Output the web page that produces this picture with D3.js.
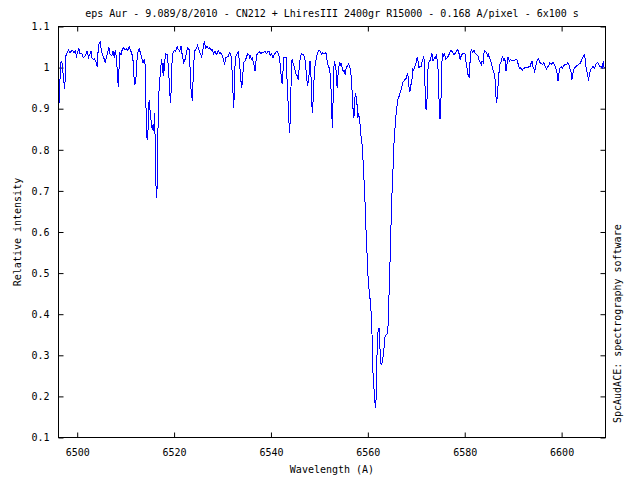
<!DOCTYPE html>
<html><head><meta charset="utf-8">
<script src="https://cdn.jsdelivr.net/npm/d3@7"></script>
<style>html,body{margin:0;padding:0;background:#fff;}svg{display:block;}</style>
</head><body>
<svg id="c" width="640" height="480"></svg>
<script>
const title = "eps Aur - 9.089/8/2010 - CN212 + LhiresIII 2400gr R15000 - 0.168 A/pixel - 6x100 s";
const xLabel = "Wavelength (A)";
const yLabel = "Relative intensity";
const sideNote = "SpcAudACE: spectrography software";
const xDomain = [6496.14, 6609.06];
const yDomain = [0.1, 1.1];
const xTicks = [6500, 6520, 6540, 6560, 6580, 6600];
const yTicks = [0.1, 0.2, 0.3, 0.4, 0.5, 0.6, 0.7, 0.8, 0.9, 1.0, 1.1];
const yTickLabels = ["0.1", "0.2", "0.3", "0.4", "0.5", "0.6", "0.7", "0.8", "0.9", "1", "1.1"];

// [wavelength (A), relative intensity]
const spectrum = [
[6496.28,0.914],[6496.42,0.959],[6496.56,1.012],[6496.83,1.016],[6496.97,0.999],[6497.24,0.967],[6497.38,0.947],[6497.52,0.971],
[6497.65,1.028],[6497.93,1.036],[6498.20,1.042],[6498.48,1.036],[6498.75,1.040],[6499.03,1.042],[6499.30,1.036],[6499.58,1.040],
[6499.85,1.028],[6500.13,1.038],[6500.33,1.048],[6500.54,1.034],[6500.95,1.034],[6501.23,1.024],[6501.64,1.029],[6502.05,1.040],
[6502.33,1.024],[6502.60,1.032],[6502.88,1.040],[6503.02,1.024],[6503.29,1.020],[6503.57,1.021],[6503.84,1.016],[6504.12,1.002],
[6504.25,1.032],[6504.53,1.060],[6504.80,1.062],[6504.94,1.044],[6505.22,1.032],[6505.49,1.024],[6505.77,1.012],[6506.04,1.026],
[6506.31,1.036],[6506.52,1.051],[6506.73,1.034],[6507.14,1.029],[6507.41,1.040],[6507.69,1.024],[6507.83,1.042],[6507.96,1.038],
[6508.24,0.999],[6508.38,0.967],[6508.51,0.953],[6508.65,1.003],[6508.79,1.036],[6509.06,1.032],[6509.34,1.046],[6509.61,1.048],
[6509.89,1.044],[6510.16,1.046],[6510.44,1.042],[6510.71,1.051],[6510.99,1.042],[6511.26,1.036],[6511.54,1.016],[6511.68,0.987],
[6511.81,0.959],[6512.09,0.963],[6512.23,1.003],[6512.50,1.036],[6512.78,1.046],[6513.05,1.036],[6513.33,1.024],[6513.60,1.012],
[6513.81,1.020],[6514.01,1.008],[6514.15,0.930],[6514.29,0.862],[6514.43,0.825],[6514.70,0.857],[6514.84,0.922],[6515.11,0.886],
[6515.39,0.857],[6515.52,0.849],[6515.66,0.862],[6515.80,0.845],[6515.94,0.890],[6516.07,0.837],[6516.21,0.736],[6516.35,0.683],
[6516.49,0.707],[6516.62,0.793],[6516.76,0.926],[6517.04,0.963],[6517.17,0.995],[6517.45,1.021],[6517.59,0.987],[6517.72,1.012],
[6517.86,0.979],[6518.00,1.008],[6518.27,1.034],[6518.55,1.032],[6518.82,1.003],[6519.10,0.943],[6519.24,0.913],[6519.37,0.939],
[6519.51,1.003],[6519.79,1.036],[6520.06,1.042],[6520.34,1.040],[6520.61,1.051],[6520.89,1.044],[6521.16,1.040],[6521.44,1.052],
[6521.71,1.028],[6521.99,1.013],[6522.26,1.020],[6522.54,1.036],[6522.81,1.048],[6523.09,1.044],[6523.36,0.987],[6523.50,0.947],
[6523.77,0.920],
[6524.05,1.012],[6524.32,1.042],[6524.60,1.046],[6524.87,1.054],[6525.15,1.042],[6525.42,1.034],[6525.70,1.026],[6525.97,1.044],
[6526.25,1.064],[6526.52,1.048],[6526.80,1.051],[6527.07,1.046],[6527.35,1.048],[6527.62,1.042],[6527.90,1.044],[6528.17,1.034],
[6528.45,1.040],[6528.72,1.032],[6529.00,1.036],[6529.13,1.042],[6529.41,1.034],[6529.68,1.036],[6529.96,1.029],[6530.23,1.020],
[6530.37,1.008],[6530.51,1.012],[6530.65,1.024],[6530.92,1.026],[6531.19,1.028],[6531.47,1.036],[6531.74,1.029],[6531.88,1.024],
[6532.02,0.971],[6532.16,0.939],[6532.29,0.902],[6532.43,0.935],[6532.57,1.003],[6532.71,1.026],[6532.98,1.032],[6533.26,1.040],
[6533.53,1.008],[6533.81,0.967],[6533.94,0.951],[6534.08,0.963],[6534.22,0.987],[6534.36,1.012],[6534.63,1.016],[6534.91,1.024],
[6535.18,1.034],[6535.46,1.032],[6535.59,1.021],[6535.73,1.028],[6536.01,1.020],[6536.14,1.026],[6536.28,1.016],[6536.56,1.003],
[6536.69,0.991],[6536.83,1.008],[6537.11,1.032],[6537.38,1.036],[6537.66,1.038],[6537.93,1.034],[6538.21,1.038],[6538.48,1.036],
[6538.76,1.040],[6539.03,1.034],[6539.31,1.038],[6539.58,1.040],[6539.86,1.029],[6540.13,1.034],[6540.41,1.024],[6540.68,1.032],
[6540.96,1.036],[6541.23,1.040],[6541.50,1.034],[6541.78,1.024],[6542.05,0.987],[6542.19,0.967],[6542.33,0.959],[6542.47,0.987],
[6542.60,1.024],[6542.88,1.026],[6543.15,1.024],[6543.29,0.979],[6543.43,0.943],[6543.57,0.906],[6543.70,0.870],[6543.84,0.841],
[6543.98,0.874],[6544.12,0.943],[6544.25,1.016],[6544.39,1.018],[6544.67,1.008],[6544.94,0.995],[6545.22,0.983],[6545.49,0.979],
[6545.63,0.969],[6545.77,0.991],[6546.04,1.024],[6546.32,1.034],[6546.59,1.032],[6546.87,1.028],[6547.14,1.012],[6547.28,0.987],
[6547.42,0.971],[6547.55,0.955],[6547.83,0.975],[6547.97,1.012],[6548.10,1.016],[6548.24,0.987],[6548.38,0.930],[6548.52,0.890],
[6548.65,0.906],[6548.79,0.951],[6548.93,0.979],[6549.07,1.003],[6549.34,1.020],[6549.62,1.036],[6549.89,1.042],[6550.17,1.040],
[6550.44,1.032],[6550.72,1.036],[6550.99,1.034],[6551.20,1.036],
[6551.47,1.034],[6551.61,1.012],[6551.89,1.003],[6552.16,0.995],[6552.30,0.951],[6552.44,0.947],[6552.57,0.882],[6552.71,0.853],
[6552.85,0.939],[6552.99,1.003],[6553.12,1.012],[6553.40,1.003],[6553.54,0.963],[6553.67,0.951],[6553.81,0.979],[6553.95,0.997],
[6554.09,1.008],[6554.22,1.012],[6554.36,1.003],[6554.50,1.012],[6554.64,1.003],[6554.77,0.994],[6555.05,0.991],[6555.19,0.995],
[6555.32,0.981],[6555.46,0.995],[6555.60,1.002],[6555.87,1.005],[6556.01,1.008],[6556.29,1.002],[6556.42,0.991],[6556.56,0.979],
[6556.70,0.951],[6556.84,0.922],[6556.97,0.894],[6557.11,0.878],[6557.25,0.898],[6557.39,0.939],[6557.52,0.935],[6557.66,0.922],
[6557.80,0.906],[6557.94,0.878],[6558.07,0.886],[6558.21,0.882],[6558.35,0.866],[6558.49,0.849],[6558.62,0.829],[6558.76,0.821],
[6558.90,0.793],[6559.04,0.768],[6559.17,0.736],[6559.31,0.703],[6559.45,0.663],[6559.59,0.614],[6559.72,0.578],[6559.86,0.541],
[6560.00,0.501],[6560.13,0.472],[6560.41,0.444],[6560.68,0.403],[6560.96,0.322],[6561.10,0.237],[6561.37,0.209],[6561.51,0.176],
[6561.65,0.172],[6561.78,0.245],[6561.92,0.314],[6562.06,0.355],[6562.20,0.363],[6562.33,0.367],[6562.47,0.330],[6562.61,0.282],
[6562.88,0.278],[6563.02,0.286],[6563.16,0.298],[6563.30,0.314],[6563.43,0.330],[6563.57,0.347],[6563.85,0.351],[6564.12,0.355],
[6564.26,0.403],[6564.40,0.460],[6564.53,0.509],[6564.67,0.565],[6564.81,0.630],[6564.95,0.679],[6565.08,0.728],[6565.22,0.760],
[6565.36,0.809],[6565.50,0.833],[6565.63,0.857],[6565.77,0.878],[6565.91,0.898],[6566.05,0.910],[6566.18,0.922],[6566.32,0.926],
[6566.60,0.935],[6566.73,0.943],[6566.87,0.947],[6567.01,0.953],[6567.15,0.959],[6567.28,0.965],[6567.42,0.967],[6567.70,0.971],
[6567.97,0.975],[6568.11,0.983],[6568.25,0.987],[6568.38,0.967],[6568.52,0.951],[6568.66,0.943],[6568.79,0.947],[6568.93,0.963],
[6569.07,0.959],[6569.21,0.997],[6569.48,0.994],[6569.62,0.999],[6569.89,1.008],[6570.03,1.016],[6570.17,1.024],[6570.31,1.020],
[6570.58,0.999],[6570.72,1.002],[6570.99,1.003],[6571.13,1.013],[6571.41,1.021],[6571.54,1.028],[6571.68,1.012],[6571.82,0.947],
[6571.96,0.902],[6572.09,0.898],[6572.23,0.926],[6572.37,0.987],[6572.51,1.012],[6572.78,1.016],[6572.92,1.020],[6573.06,1.028],
[6573.19,1.036],[6573.47,1.016],[6573.74,1.024],[6573.88,1.021],[6574.16,1.032],[6574.29,1.020],[6574.57,0.987],[6574.71,0.914],
[6574.84,0.874],[6574.98,0.878],[6575.12,0.930],[6575.26,1.003],[6575.39,1.036],[6575.67,1.028],[6575.81,1.036],[6576.08,1.020],
[6576.36,1.024],[6576.63,1.028],[6576.91,1.036],[6577.18,1.042],[6577.45,1.038],[6577.73,1.032],[6578.00,1.034],[6578.28,1.040],
[6578.55,1.044],[6578.83,1.034],
[6579.03,1.020],[6579.30,1.029],[6579.58,1.034],[6579.85,1.036],[6580.13,1.032],[6580.27,1.012],[6580.54,0.995],[6580.68,0.983],
[6580.95,0.975],[6581.09,1.012],[6581.23,1.036],[6581.37,1.044],[6581.64,1.038],[6581.92,1.042],[6582.19,1.034],[6582.47,1.032],
[6582.74,1.028],[6583.02,1.016],[6583.29,1.012],[6583.43,1.005],[6583.57,1.016],[6583.84,1.012],[6583.98,1.036],[6584.12,1.040],
[6584.39,1.038],[6584.67,1.032],[6584.80,1.026],[6584.94,1.032],[6585.22,1.021],[6585.49,1.012],[6585.63,1.003],[6585.90,0.991],
[6586.18,0.983],[6586.32,0.963],[6586.45,0.930],[6586.59,0.913],[6586.73,0.935],[6586.87,0.955],[6587.00,0.979],[6587.14,0.995],
[6587.28,1.008],[6587.55,1.016],[6587.69,1.024],[6587.83,1.026],[6588.10,1.016],[6588.24,1.024],[6588.38,1.012],[6588.51,0.991],
[6588.65,1.003],[6588.93,1.026],[6589.06,1.024],[6589.20,1.016],[6589.48,1.020],[6589.75,1.016],[6590.03,1.018],[6590.30,1.018],
[6590.58,1.020],[6590.85,1.018],[6591.13,1.003],[6591.26,0.999],[6591.40,1.002],[6591.68,0.997],[6591.95,0.994],[6592.09,0.997],
[6592.36,0.999],[6592.64,1.002],[6592.91,0.999],[6593.19,1.002],[6593.46,1.002],[6593.74,1.012],[6593.88,1.016],[6594.01,1.003],
[6594.29,0.997],[6594.43,0.986],[6594.56,0.999],[6594.84,1.012],[6594.98,1.020],[6595.25,1.021],[6595.39,1.016],[6595.53,1.012],
[6595.80,1.010],[6596.08,1.008],[6596.35,1.012],[6596.62,1.002],[6596.90,0.997],[6597.17,1.002],[6597.45,1.008],[6597.59,1.012],
[6597.86,1.008],[6598.14,1.012],[6598.27,1.013],[6598.55,1.005],[6598.82,0.999],[6599.10,0.983],[6599.24,0.967],[6599.37,0.975],
[6599.51,0.991],[6599.65,0.999],[6599.92,1.002],[6600.20,0.999],[6600.47,1.005],[6600.75,1.008],[6601.02,1.008],[6601.30,1.012],
[6601.57,1.005],[6601.71,0.997],[6601.99,0.987],[6602.12,0.971],[6602.26,0.979],[6602.40,0.991],[6602.67,0.999],[6602.95,1.003],
[6603.22,1.005],[6603.50,1.008],[6603.77,1.010],[6603.91,1.012],[6604.19,1.020],[6604.46,1.028],[6604.74,1.032],[6604.87,1.020],
[6605.01,1.003],[6605.28,0.987],[6605.42,0.979],[6605.56,0.973],[6605.70,0.979],[6605.97,0.995],[6606.25,0.999],[6606.52,1.003],
[6606.80,0.999],[6607.07,1.008],[6607.35,1.012],[6607.62,1.010],[6607.90,1.002],[6608.17,1.003],[6608.45,0.999],[6608.58,1.016],
[6608.72,1.002],[6608.86,0.999]
];

const W = 640, H = 480;
const plot = {left: 58.5, right: 605.5, top: 26.5, bottom: 437.5};
const font = "'DejaVu Sans Mono', 'Liberation Mono', monospace";
const fs = 10;
const tickLen = 5;

const svg = d3.select("#c");
svg.append("rect").attr("width", W).attr("height", H).attr("fill", "#fff");

const x = d3.scaleLinear().domain(xDomain).range([plot.left, plot.right]);
const y = d3.scaleLinear().domain(yDomain).range([plot.bottom, plot.top]);

function styleAxis(g, showText) {
  g.select(".domain").remove();
  g.selectAll(".tick line").attr("stroke", "#000").attr("stroke-width", 1);
  g.selectAll(".tick text").attr("font-family", font).attr("font-size", fs).attr("fill", "#000");
  if (!showText) g.selectAll(".tick text").remove();
}

svg.append("g").attr("transform", `translate(0,${plot.bottom})`)
  .call(d3.axisBottom(x).tickValues(xTicks).tickFormat(d3.format("d")).tickSizeInner(-tickLen).tickSizeOuter(0).tickPadding(11))
  .call(g => styleAxis(g, true));
svg.append("g").attr("transform", `translate(0,${plot.top})`)
  .call(d3.axisTop(x).tickValues(xTicks).tickSizeInner(-tickLen).tickSizeOuter(0))
  .call(g => styleAxis(g, false));
svg.append("g").attr("transform", `translate(${plot.left},0)`)
  .call(d3.axisLeft(y).tickValues(yTicks).tickFormat((d, i) => yTickLabels[i]).tickSizeInner(-tickLen).tickSizeOuter(0).tickPadding(9))
  .call(g => styleAxis(g, true));
svg.append("g").attr("transform", `translate(${plot.right},0)`)
  .call(d3.axisRight(y).tickValues(yTicks).tickSizeInner(-tickLen).tickSizeOuter(0))
  .call(g => styleAxis(g, false));

svg.append("rect")
  .attr("x", plot.left).attr("y", plot.top)
  .attr("width", plot.right - plot.left).attr("height", plot.bottom - plot.top)
  .attr("fill", "none").attr("stroke", "#000").attr("stroke-width", 1);

svg.append("path")
  .datum(spectrum)
  .attr("fill", "none")
  .attr("stroke", "#0000ff")
  .attr("stroke-width", 1)
  .attr("shape-rendering", "crispEdges")
  .attr("d", d3.line().x(d => x(d[0])).y(d => y(d[1])));

svg.append("text").attr("x", (plot.left + plot.right) / 2).attr("y", 17)
  .attr("text-anchor", "middle").attr("font-family", font).attr("font-size", fs).text(title);
svg.append("text").attr("x", (plot.left + plot.right) / 2).attr("y", 473)
  .attr("text-anchor", "middle").attr("font-family", font).attr("font-size", fs).text(xLabel);
svg.append("text").attr("transform", `translate(21,${(plot.top + plot.bottom) / 2}) rotate(-90)`)
  .attr("text-anchor", "middle").attr("font-family", font).attr("font-size", fs).text(yLabel);
svg.append("text").attr("transform", `translate(621,423) rotate(-90)`)
  .attr("text-anchor", "start").attr("font-family", font).attr("font-size", fs).text(sideNote);
</script>
</body></html>
